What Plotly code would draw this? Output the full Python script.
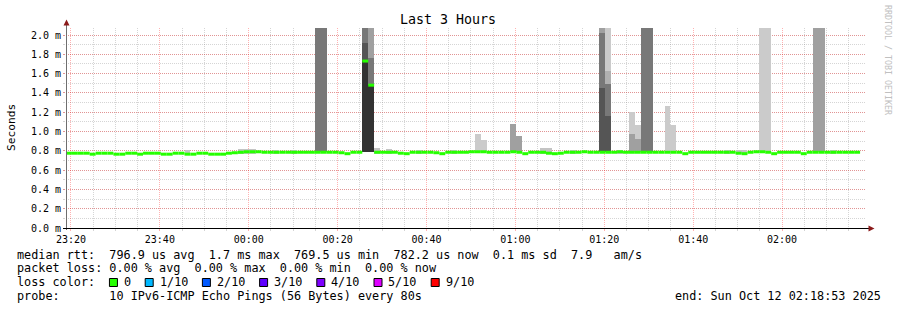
import plotly.graph_objects as go
import pandas as pd

# ---------------- data ----------------
start = pd.Timestamp("2025-10-11 23:18:53")
end = pd.Timestamp("2025-10-12 02:18:53")
step_seconds = 80

# median rtt per 80 s step (ms)
median_ms = [
    0.775, 0.775, 0.775, 0.775, 0.765, 0.775, 0.775, 0.775, 0.765, 0.765,
    0.775, 0.775, 0.765, 0.775, 0.775, 0.775, 0.765, 0.765, 0.775, 0.775,
    0.765, 0.765, 0.775, 0.775, 0.765, 0.765, 0.765, 0.775, 0.78, 0.785,
    0.79, 0.79, 0.79, 0.785, 0.785, 0.785, 0.785, 0.785, 0.785, 0.785,
    0.785, 0.785, 0.785, 0.785, 0.785, 0.785, 0.78, 0.77, 0.785, 0.785,
    1.73, 1.48, 0.785, 0.785, 0.785, 0.785, 0.775, 0.77, 0.785, 0.785,
    0.785, 0.785, 0.78, 0.77, 0.785, 0.785, 0.785, 0.785, 0.79, 0.79,
    0.79, 0.785, 0.785, 0.785, 0.785, 0.79, 0.785, 0.77, 0.785, 0.785,
    0.785, 0.775, 0.77, 0.775, 0.785, 0.785, 0.785, 0.79, 0.785, 0.785,
    0.785, 0.785, 0.785, 0.79, 0.785, 0.785, 0.785, 0.785, 0.785, 0.785,
    0.785, 0.785, 0.785, 0.785, 0.77, 0.785, 0.785, 0.785, 0.785, 0.785,
    0.785, 0.785, 0.785, 0.775, 0.77, 0.785, 0.79, 0.79, 0.785, 0.77,
    0.785, 0.785, 0.785, 0.785, 0.77, 0.785, 0.785, 0.785, 0.785, 0.785,
    0.785, 0.785, 0.785, 0.785,
]

# light baseline smoke (step index, bottom, top) in ms
smoke_step = [20, 29, 30, 31, 35, 38, 52, 54, 59, 65, 80, 81, 85, 93, 111, 113, 114, 129]
smoke_lo = [0.765, 0.77, 0.77, 0.77, 0.77, 0.77, 0.77, 0.77, 0.77, 0.77,
            0.77, 0.77, 0.77, 0.77, 0.77, 0.77, 0.77, 0.77]
smoke_hi = [0.81, 0.82, 0.82, 0.82, 0.81, 0.81, 0.83, 0.82, 0.81, 0.81,
            0.83, 0.83, 0.81, 0.81, 0.81, 0.81, 0.81, 0.81]

# smoke spikes: step index, bottom, top (ms), smoke layer (0 = lightest ... 5 = darkest)
seg_step = [42, 43, 50, 50, 50, 51, 51, 51, 69, 70, 75, 76,
            90, 90, 90, 91, 91, 91, 91, 95, 95, 96, 96, 97, 98,
            101, 102, 117, 118, 126, 127]
seg_lo = [0.79, 0.79, 0.79, 1.73, 1.92, 0.79, 1.48, 1.76, 0.79, 0.79, 0.79, 0.79,
          0.79, 1.45, 2.02, 0.79, 1.16, 1.49, 1.63, 0.79, 0.97, 0.79, 0.92, 0.79, 0.79,
          0.79, 0.79, 0.79, 0.79, 0.79, 0.79]
seg_hi = [2.40, 2.40, 1.73, 1.92, 2.40, 1.48, 1.76, 2.40, 0.97, 0.91, 1.08, 0.95,
          1.45, 2.02, 2.40, 1.16, 1.49, 1.63, 2.40, 0.97, 1.20, 0.92, 1.07, 2.40, 2.40,
          1.26, 1.07, 2.40, 2.40, 2.40, 2.40]
seg_layer = [3, 3, 5, 4, 3, 5, 3, 2, 0, 0, 2, 2,
             4, 3, 2, 4, 3, 1, 0, 2, 0, 2, 0, 3, 3,
             0, 0, 0, 0, 2, 2]

y_tick_values = [0.0, 0.2, 0.4, 0.6, 0.8, 1.0, 1.2, 1.4, 1.6, 1.8, 2.0]
y_tick_labels = ["0.0 m", "0.2 m", "0.4 m", "0.6 m", "0.8 m", "1.0 m",
                 "1.2 m", "1.4 m", "1.6 m", "1.8 m", "2.0 m"]

loss_labels = ["0", "1/10", "2/10", "3/10", "4/10", "5/10", "9/10"]
loss_colors = ["#26ff00", "#00b8ff", "#0059ff", "#5e00ff", "#7e00ff", "#dd00ff", "#ff0000"]

title_text = "Last 3 Hours"
line_rtt = "median rtt:  796.9 us avg  1.7 ms max  769.5 us min  782.2 us now  0.1 ms sd  7.9   am/s"
line_loss = "packet loss: 0.00 % avg  0.00 % max  0.00 % min  0.00 % now"
line_probe = "probe:       10 IPv6-ICMP Echo Pings (56 Bytes) every 80s"
line_end = "end: Sun Oct 12 02:18:53 2025"

# ---------------- styles / layout ----------------
W, H = 897, 310
ML, MR, MT, MB = 66, 31, 28, 82
PW = W - ML - MR
PH = H - MT - MB
MONO = "DejaVu Sans Mono"
layer_colors = ["#cbcbcb", "#b0b0b0", "#a0a0a0", "#787878", "#555555", "#333333"]
smoke_color = "#c4c4c4"
median_color = "#26ff00"


def px(x):
    return (x - ML) / PW


def py(y):
    return (H - MB - y) / PH


step = pd.Timedelta(seconds=step_seconds)


def center(k):
    return start + step * k + step / 2


fig = go.Figure()

# baseline smoke
fig.add_trace(go.Bar(
    x=[center(k) for k in smoke_step],
    base=smoke_lo,
    y=[h - l for h, l in zip(smoke_hi, smoke_lo)],
    width=step_seconds * 1000,
    marker=dict(color=smoke_color, line=dict(width=0)),
    hoverinfo="skip", showlegend=False,
))

# spike smoke layers
for lv, col in enumerate(layer_colors):
    idx = [i for i, l in enumerate(seg_layer) if l == lv]
    if not idx:
        continue
    fig.add_trace(go.Bar(
        x=[center(seg_step[i]) for i in idx],
        base=[seg_lo[i] for i in idx],
        y=[seg_hi[i] - seg_lo[i] for i in idx],
        width=step_seconds * 1000,
        marker=dict(color=col, line=dict(width=0)),
        hoverinfo="skip", showlegend=False,
    ))

# median line (horizontal segment per step)
lx, ly = [], []
for k, v in enumerate(median_ms):
    lx += [start + step * k, start + step * (k + 1), None]
    ly += [v, v, None]
fig.add_trace(go.Scatter(
    x=lx, y=ly, mode="lines",
    line=dict(color=median_color, width=3),
    hoverinfo="skip", showlegend=False, connectgaps=False,
))

major_grid = "rgba(255,0,0,0.30)"
minor_grid = "rgba(128,128,128,0.33)"

fig.update_layout(
    width=W, height=H,
    margin=dict(l=ML, r=MR, t=MT, b=MB, pad=0),
    paper_bgcolor="white", plot_bgcolor="white",
    barmode="overlay", bargap=0,
    showlegend=False,
    font=dict(family=MONO, color="black"),
    xaxis=dict(
        type="date", range=[start, end],
        tick0="2025-10-11 23:20:00", dtick=20 * 60 * 1000,
        tickformat="%H:%M",
        showgrid=True, gridcolor=major_grid, griddash="1px,1px", gridwidth=1,
        ticks="outside", ticklen=2, tickcolor=major_grid,
        minor=dict(dtick=5 * 60 * 1000, tick0="2025-10-11 23:20:00",
                   showgrid=True, gridcolor=minor_grid, griddash="1px,1px",
                   ticks="outside", ticklen=2, tickcolor=minor_grid),
        tickfont=dict(family=MONO, size=10, color="black"),
        showline=False, zeroline=False, fixedrange=True,
    ),
    yaxis=dict(
        range=[0, 2.0725],
        tickvals=y_tick_values, ticktext=y_tick_labels,
        showgrid=True, gridcolor=major_grid, griddash="1px,1px", gridwidth=1,
        ticks="outside", ticklen=2, tickcolor=major_grid,
        minor=dict(dtick=0.1, tick0=0, showgrid=True, gridcolor=minor_grid,
                   griddash="1px,1px", ticks="outside", ticklen=2, tickcolor=minor_grid),
        tickfont=dict(family=MONO, size=10, color="black"),
        showline=False, zeroline=False, fixedrange=True,
    ),
)

shapes = []
# axes lines
shapes.append(dict(type="line", xref="paper", yref="paper",
                   x0=px(66.5), x1=px(66.5), y0=py(230), y1=py(24),
                   line=dict(color="#6e6e6e", width=1)))
shapes.append(dict(type="line", xref="paper", yref="paper",
                   x0=px(63), x1=px(869), y0=py(228.5), y1=py(228.5),
                   line=dict(color="#000000", width=1)))
# arrow heads
arrow_col = "#8b1a1a"
shapes.append(dict(type="path", xref="paper", yref="paper",
                   path=f"M {px(63.5)},{py(25.5)} L {px(69.5)},{py(25.5)} L {px(66.5)},{py(19.5)} Z",
                   fillcolor=arrow_col, line=dict(width=0)))
shapes.append(dict(type="path", xref="paper", yref="paper",
                   path=f"M {px(868.5)},{py(225.5)} L {px(868.5)},{py(231.5)} L {px(874.5)},{py(228.5)} Z",
                   fillcolor=arrow_col, line=dict(width=0)))

annotations = []


def txt(x, y, s, size=11.8, anchor="left", angle=0, color="black"):
    annotations.append(dict(xref="paper", yref="paper", x=px(x), y=py(y), text=s,
                            showarrow=False, xanchor=anchor, yanchor="middle",
                            textangle=angle, borderpad=0,
                            font=dict(family=MONO, size=size, color=color)))


CW = 7.15  # monospace column width in px
X0 = 15.5
txt(448, 19, title_text, size=13.3, anchor="center")
txt(11, 127, "Seconds", size=11.2, anchor="center", angle=-90)
txt(888, 60, "RRDTOOL / TOBI OETIKER", size=8.3, anchor="center", angle=90, color="#c0c0c0")
txt(X0, 254.5, line_rtt.replace(" ", "&nbsp;"))
txt(X0, 268, line_loss.replace(" ", "&nbsp;"))
txt(X0, 282, "loss color:")
txt(X0, 296, line_probe.replace(" ", "&nbsp;"))
txt(882, 296, line_end.replace(" ", "&nbsp;"), anchor="right")

col = 13
for lab, c in zip(loss_labels, loss_colors):
    bx = 16 + col * CW + 0.5
    shapes.append(dict(type="rect", xref="paper", yref="paper",
                       x0=px(bx), x1=px(bx + 8), y0=py(286.5), y1=py(278.5),
                       fillcolor=c, line=dict(color="black", width=1)))
    txt(X0 + (col + 2) * CW, 282, lab)
    col += 2 + len(lab) + 2

fig.update_layout(shapes=shapes, annotations=annotations)
fig.write_html("out.html", config={"displayModeBar": False})
